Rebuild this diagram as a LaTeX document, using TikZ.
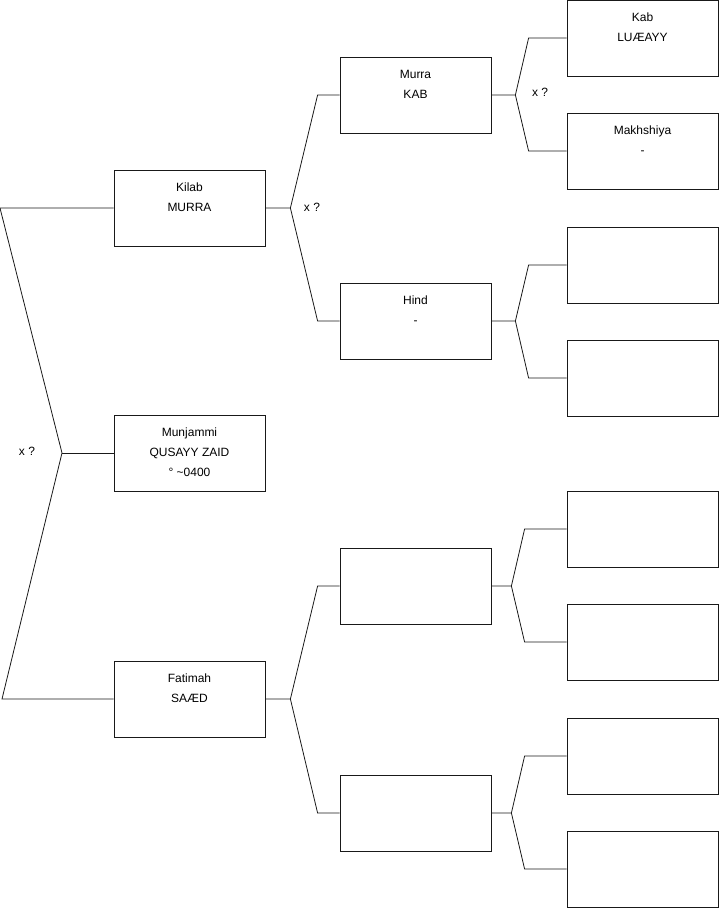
\documentclass[tikz,border=0pt]{standalone}
\usepackage{fontspec}
\setmainfont{Liberation Sans}
\usetikzlibrary{positioning}
\definecolor{linec}{RGB}{25,25,25}

\begin{document}
\begin{tikzpicture}[x=1pt,y=-1pt,line width=0.8pt,
    person/.style={draw=linec,minimum width=151pt,minimum height=76pt,inner sep=0pt},
    who/.style={label={[anchor=north,align=center,yshift=-9.5pt,
        font=\fontsize{12}{20}\selectfont]north:#1}},
    qmark/.style={font=\fontsize{12}{14}\selectfont,inner sep=0pt},
    link/.style={draw=linec}]
\useasboundingbox (0,0) rectangle (719,908);

% generation 1
\node[person,who={Kilab\\MURRA}] (kilab) at (189.5,208) {};
\node[person,who={Munjammi\\QUSAYY ZAID\\\textdegree\ \textasciitilde0400}] (munjammi) at (189.5,453) {};
\node[person,who={Fatimah\\SAÆD}] (fatimah) at (189.5,699) {};

% generation 2
\node[person,who={Murra\\KAB}] (murra) at (415.5,95) {};
\node[person,who={Hind\\-}] (hind) at (415.5,321) {};
\node[person] (fatimahA) at (415.5,586) {};
\node[person] (fatimahB) at (415.5,813) {};

% generation 3
\node[person,who={Kab\\LUÆAYY}] (kab) at (642.5,38) {};
\node[person,who={Makhshiya\\-}] (makhshiya) at (642.5,151) {};
\node[person] (hindA) at (642.5,265) {};
\node[person] (hindB) at (642.5,378) {};
\node[person] (fatAA) at (642.5,529) {};
\node[person] (fatAB) at (642.5,642) {};
\node[person] (fatBA) at (642.5,756) {};
\node[person] (fatBB) at (642.5,869) {};

% root fork
\coordinate (rootA) at (0,208);
\coordinate (rootF) at (62,453);
\coordinate (rootB) at (2,699);
\draw[link] (kilab.west) -- (rootA) -- (rootF) -- (rootB) -- (fatimah.west);
\draw[link] (rootF) -- (munjammi.west);
\node[qmark] (qroot) at (27,451) {x ?};

% forks to the right
\foreach \p/\a/\b/\s/\t in {kilab/murra/hind/25/22,fatimah/fatimahA/fatimahB/25/22,
    murra/kab/makhshiya/24/38,hind/hindA/hindB/24/38,
    fatimahA/fatAA/fatAB/20/42,fatimahB/fatBA/fatBB/20/42}{
  \draw[link] (\p.east) -- ++(\s,0) coordinate (fk-\p)
    -- ([xshift=-\t pt]\a.west) -- (\a.west);
  \draw[link] (fk-\p) -- ([xshift=-\t pt]\b.west) -- (\b.west);
}
\node[qmark] (qkilab) at (312,207) {x ?};
\node[qmark] (qmurra) at (540,92) {x ?};
\end{tikzpicture}
\end{document}
